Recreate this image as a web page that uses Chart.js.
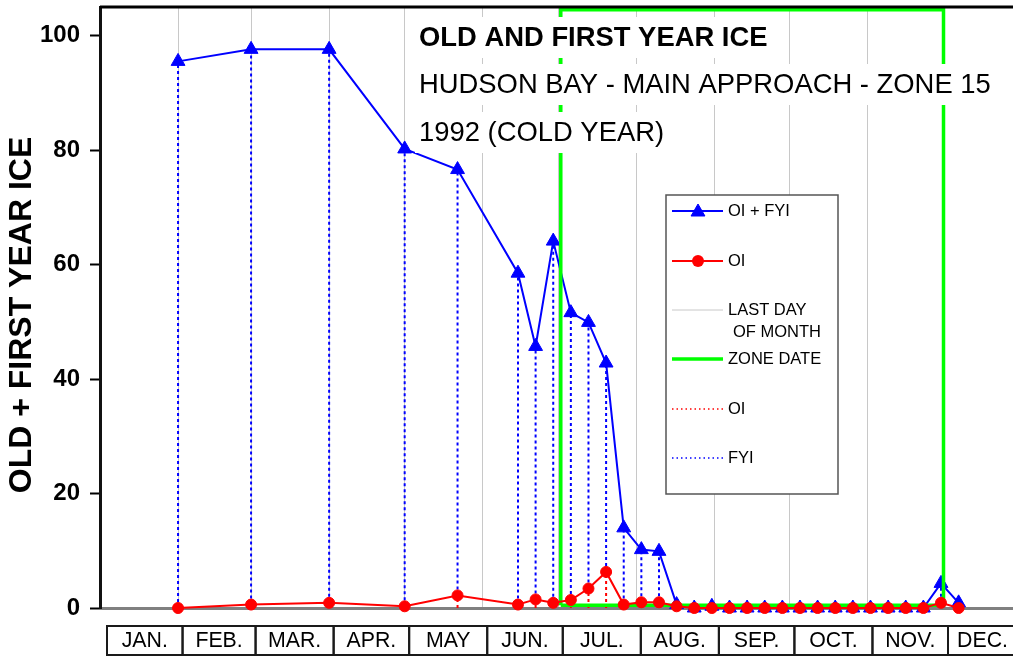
<!DOCTYPE html>
<html>
<head>
<meta charset="utf-8">
<title>Old and First Year Ice - Hudson Bay Zone 15 - 1992</title>
<script src="https://cdn.jsdelivr.net/npm/chart.js@4.4.1/dist/chart.umd.min.js"></script>
<style>
  html, body { margin: 0; padding: 0; background: #fff; }
  #wrap { width: 1013px; height: 656px; }
</style>
</head>
<body>
<div id="wrap"><canvas id="iceChart" width="1013" height="656"></canvas></div>
<script>
// observation dates, day of year (1992)
const obsDays = [31, 60, 91, 121, 142,
  166, 173, 180, 187, 194, 201, 208, 215, 222, 229,
  236, 243, 250, 257, 264, 271, 278, 285, 292, 299, 306, 313, 320, 327,
  334, 341];

// old ice + first year ice
const totalIce = [95.5, 97.6, 97.6, 80.2, 76.6,
  58.5, 45.7, 64.1, 51.6, 49.9, 42.8, 14.0, 10.2, 9.9, 0.6,
  0, 0.3, 0, 0, 0, 0, 0, 0, 0, 0, 0, 0, 0, 0,
  4.3, 0.9];

// old ice only
const oldIce = [0, 0.6, 0.9, 0.3, 2.2,
  0.6, 1.5, 0.9, 1.4, 3.4, 6.3, 0.6, 1.0, 1.0, 0.3,
  0, 0, 0, 0, 0, 0, 0, 0, 0, 0, 0, 0, 0, 0,
  0.9, 0];

// zone open / close days and the band drawn for it
const zoneDays = [183, 335];
const zoneLevels = [0.5, 104.5];

// last day of each month
const monthEnds = [31, 60, 91, 121, 152, 182, 213, 244, 274, 305, 335, 366];
const monthLabels = ['JAN.', 'FEB.', 'MAR.', 'APR.', 'MAY', 'JUN.', 'JUL.', 'AUG.', 'SEP.', 'OCT.', 'NOV.', 'DEC.'];

const yTicks = [0, 20, 40, 60, 80, 100];
const yTitle = 'OLD + FIRST YEAR ICE';

const titleLines = [
  { text: 'OLD AND FIRST YEAR ICE', bold: true },
  { text: 'HUDSON BAY - MAIN APPROACH - ZONE 15', bold: false },
  { text: '1992 (COLD YEAR)', bold: false }
];

const FONT = '"Liberation Sans", Arial, sans-serif';
const BLUE = '#0000ff';
const RED = '#ff0000';
const GREEN = '#00ff00';
const GRID = '#c8c8c8';

const totalPts = obsDays.map((d, i) => ({ x: d, y: totalIce[i] }));
const oldPts = obsDays.map((d, i) => ({ x: d, y: oldIce[i] }));

// dotted drop lines: FYI part from OI up to total, OI part from 0 up to OI
const fyiDrops = [];
const oiDrops = [];
obsDays.forEach((d, i) => {
  if (totalIce[i] > oldIce[i]) {
    fyiDrops.push({ x: d, y: oldIce[i] }, { x: d, y: totalIce[i] }, { x: d, y: null });
  }
  if (oldIce[i] > 0) {
    oiDrops.push({ x: d, y: 0 }, { x: d, y: oldIce[i] }, { x: d, y: null });
  }
});

const zonePts = [
  { x: zoneDays[0], y: zoneLevels[0] },
  { x: zoneDays[0], y: zoneLevels[1] },
  { x: zoneDays[1], y: zoneLevels[1] },
  { x: zoneDays[1], y: zoneLevels[0] },
  { x: zoneDays[0], y: zoneLevels[0] }
];

// no extra room around the plot: the frame sits right on the canvas edges
function noPadding(axis) {
  axis.paddingTop = 0;
  axis.paddingBottom = 0;
  axis.paddingLeft = 0;
  axis.paddingRight = 0;
}

// top frame line, titles, legend box and month strip
const decorations = {
  id: 'decorations',
  afterDatasetsDraw(chart) {
    const ctx = chart.ctx;
    const area = chart.chartArea;
    ctx.save();

    // top frame
    ctx.strokeStyle = '#000';
    ctx.lineWidth = 3;
    ctx.beginPath();
    ctx.moveTo(area.left, area.top);
    ctx.lineTo(area.right, area.top);
    ctx.stroke();

    // y axis title
    ctx.save();
    ctx.translate(22, 315);
    ctx.rotate(-Math.PI / 2);
    ctx.font = 'bold 32px ' + FONT;
    ctx.fillStyle = '#000';
    ctx.textAlign = 'center';
    ctx.textBaseline = 'middle';
    ctx.fillText(yTitle, 0, 0);
    ctx.restore();

    // title block, each line on its own white backing
    const baselines = [46, 93, 141];
    titleLines.forEach((line, i) => {
      ctx.font = (line.bold ? 'bold ' : '') + '27.4px ' + FONT;
      const w = ctx.measureText(line.text).width;
      ctx.fillStyle = '#fff';
      ctx.fillRect(415, baselines[i] - 29, w + 8, 41);
      ctx.fillStyle = '#000';
      ctx.textBaseline = 'alphabetic';
      ctx.textAlign = 'left';
      ctx.fillText(line.text, 419, baselines[i]);
    });

    // legend
    const lx = 666, ly = 195, lw = 172, lh = 299;
    ctx.fillStyle = '#fff';
    ctx.fillRect(lx, ly, lw, lh);
    ctx.strokeStyle = '#555';
    ctx.lineWidth = 1.5;
    ctx.strokeRect(lx, ly, lw, lh);

    const x0 = 672, x1 = 723, tx = 728;
    const sample = (y, color, width, dash) => {
      ctx.strokeStyle = color;
      ctx.lineWidth = width;
      ctx.setLineDash(dash || []);
      ctx.beginPath();
      ctx.moveTo(x0, y);
      ctx.lineTo(x1, y);
      ctx.stroke();
      ctx.setLineDash([]);
    };
    const label = (text, x, y) => {
      ctx.fillStyle = '#000';
      ctx.font = '16.5px ' + FONT;
      ctx.textAlign = 'left';
      ctx.textBaseline = 'middle';
      ctx.fillText(text, x, y);
    };

    sample(211, BLUE, 2);
    ctx.fillStyle = BLUE;
    ctx.strokeStyle = BLUE;
    ctx.lineWidth = 1;
    Chart.helpers.drawPoint(ctx, { pointStyle: 'triangle', radius: 8, borderWidth: 1 }, 698, 212);
    label('OI + FYI', tx, 211);

    sample(261, RED, 2);
    ctx.fillStyle = RED;
    ctx.beginPath();
    ctx.arc(698, 261, 6, 0, Math.PI * 2);
    ctx.fill();
    label('OI', tx, 261);

    sample(310, GRID, 1);
    label('LAST DAY', tx, 310);
    label('OF MONTH', tx + 5, 332);

    sample(359, GREEN, 3.5);
    label('ZONE DATE', tx, 359);

    sample(409, RED, 1.5, [1.5, 3]);
    label('OI', tx, 409);

    sample(458, BLUE, 1.5, [1.5, 3]);
    label('FYI', tx, 458);

    // month strip under the axis
    const xs = chart.scales.x;
    const top = 626, bottom = 655;
    const edges = [xs.getPixelForValue(0) + 7].concat(monthEnds.map(d => xs.getPixelForValue(d) + 4.5));
    ctx.strokeStyle = '#1a1a1a';
    ctx.lineWidth = 2;
    ctx.font = '21.3px ' + FONT;
    ctx.textAlign = 'center';
    ctx.textBaseline = 'alphabetic';
    monthLabels.forEach((m, i) => {
      const a = edges[i];
      const b = edges[i + 1];
      ctx.strokeRect(a, top, b - a, bottom - top);
      const c = (a + Math.min(b, chart.width + 4)) / 2;
      ctx.fillStyle = '#000';
      ctx.fillText(m, c, 647);
    });

    ctx.restore();
  }
};

Chart.defaults.font.family = FONT;

new Chart(document.getElementById('iceChart').getContext('2d'), {
  type: 'line',
  data: {
    datasets: [
      {
        label: 'OI',
        data: oldPts,
        borderColor: RED,
        backgroundColor: RED,
        borderWidth: 2,
        pointStyle: 'circle',
        pointRadius: 5.5,
        pointBorderWidth: 1,
        tension: 0,
        clip: false,
        order: 0
      },
      {
        label: 'ZONE DATE',
        data: zonePts,
        borderColor: GREEN,
        borderWidth: 3.5,
        pointRadius: 0,
        tension: 0,
        clip: false,
        order: 1
      },
      {
        label: 'OI + FYI',
        data: totalPts,
        borderColor: BLUE,
        backgroundColor: BLUE,
        borderWidth: 2,
        pointStyle: 'triangle',
        pointRadius: 8,
        pointBorderWidth: 1,
        tension: 0,
        clip: false,
        order: 2
      },
      {
        label: 'OI dotted',
        data: oiDrops,
        borderColor: RED,
        borderWidth: 2,
        borderDash: [3, 3],
        pointRadius: 0,
        spanGaps: false,
        tension: 0,
        order: 3
      },
      {
        label: 'FYI',
        data: fyiDrops,
        borderColor: BLUE,
        borderWidth: 2,
        borderDash: [3, 3],
        pointRadius: 0,
        spanGaps: false,
        tension: 0,
        order: 4
      }
    ]
  },
  options: {
    responsive: false,
    devicePixelRatio: 1,
    animation: false,
    events: [],
    layout: { autoPadding: false, padding: { top: 7, left: 0, right: 0, bottom: 0 } },
    plugins: {
      legend: { display: false },
      tooltip: { enabled: false }
    },
    scales: {
      x: {
        type: 'linear',
        min: 0,
        max: 362.6,
        afterBuildTicks(axis) {
          axis.ticks = monthEnds.filter(d => d <= 362.6).map(d => ({ value: d }));
        },
        afterFit(axis) {
          axis.height = 48;
          noPadding(axis);
        },
        ticks: { display: false },
        grid: { color: GRID, lineWidth: 1, drawTicks: false },
        border: { color: '#808080', width: 3 }
      },
      y: {
        min: 0,
        max: 105,
        afterBuildTicks(axis) {
          axis.ticks = yTicks.map(v => ({ value: v }));
        },
        afterFit(axis) {
          axis.width = 100;
          noPadding(axis);
        },
        ticks: {
          color: '#000',
          padding: 10,
          font: { size: 24, weight: 'bold', family: FONT }
        },
        grid: { drawOnChartArea: false, drawTicks: true, tickLength: 10, tickColor: '#000', tickWidth: 2 },
        border: { color: '#111', width: 3 }
      }
    }
  },
  plugins: [decorations]
});
</script>
</body>
</html>
